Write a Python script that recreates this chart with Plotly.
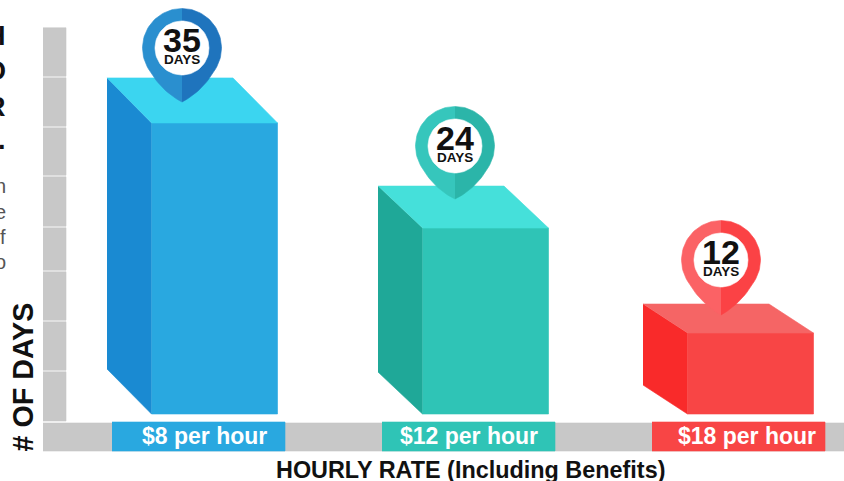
import numpy as np
import plotly.graph_objects as go

# --- data ---
rates = ["$8 per hour", "$12 per hour", "$18 per hour"]
days = [35, 24, 12]
axis_ticks = [0, 5, 10, 15, 20, 25, 30, 35, 40]
axis_title_x = "HOURLY RATE (Including Benefits)"
axis_title_y = "# OF DAYS"

# --- styling / layout constants (pixels of the 844x481 frame) ---
W, H = 844, 481
BASE_PX, PX_PER_DAY = 422, 9.83
bar_left = [107, 378, 643]
bar_w, bar_dx = 126, 44.5
bar_dy = [45, 42, 29]
front_bottom_px = 414
label_left = [112, 382, 652]
label_text_x = [204.5, 468.5, 746.5]
label_w = 173
pin_cx = [182, 455, 721]
pin_cy = [48, 146, 260]
pin_tip_offset = [54, 53, 55]
pin_R, pin_r = 39.5, 27
front = ["#29A8E0", "#2FC4B6", "#F84545"]
side = ["#1A8AD2", "#1FA898", "#F92A2A"]
top = ["#3BD5F0", "#45E0DA", "#F56565"]
pinL = ["#2A8FCF", "#36C6BC", "#FB6265"]
pinR = ["#1F74BD", "#2BB5A9", "#FB4245"]
GREY = "#C8C8C8"
# irregular band gaps as drawn, px above baseline per axis tick
band_edges_px = [421, 371, 321, 271, 227, 176, 127, 77, 27]


def d(py):
    """pixel row -> value on the days axis"""
    return (BASE_PX - py) / PX_PER_DAY


fig = go.Figure()


def poly(xs, ys, color):
    fig.add_trace(go.Scatter(x=xs, y=ys, mode="lines", fill="toself", fillcolor=color,
                             line=dict(width=0.6, color=color), hoverinfo="skip", showlegend=False))


# grey vertical axis band, one block per tick interval
for i in range(len(axis_ticks) - 1):
    y0, y1 = d(band_edges_px[i] - (0 if i == 0 else 0.8)), d(band_edges_px[i + 1] + 0.8)
    poly([43, 66, 66, 43], [y0, y0, y1, y1], GREY)
# grey baseline band
poly([43, W, W, 43], [d(423), d(423), d(451), d(451)], GREY)

for i, v in enumerate(days):
    L, dy = bar_left[i], bar_dy[i]
    back = v
    frontt = v - dy / PX_PER_DAY
    fb = d(front_bottom_px)
    fl = L + bar_dx
    poly([L, fl, fl, L], [back, frontt, fb, fb + dy / PX_PER_DAY], side[i])
    poly([fl, fl + bar_w, fl + bar_w, fl], [frontt, frontt, fb, fb], front[i])
    poly([L, L + bar_w, fl + bar_w, fl], [back, back, frontt, frontt], top[i])
    # category label chip
    poly([label_left[i], label_left[i] + label_w, label_left[i] + label_w, label_left[i]],
         [d(422), d(422), d(451), d(451)], front[i])

    # map pin
    cx, cy, tip = pin_cx[i], pin_cy[i], pin_tip_offset[i]
    theta = np.radians(np.linspace(-90, 28, 40))
    ax = pin_R * np.cos(theta)
    ay = pin_R * np.sin(theta)
    t = np.linspace(0, 1, 20)
    p0 = np.array([ax[-1], ay[-1]])
    p2 = np.array([0.0, float(tip)])
    p1 = np.array([pin_R * 0.55, pin_R * 1.08])
    bx = (1 - t) ** 2 * p0[0] + 2 * t * (1 - t) * p1[0] + t ** 2 * p2[0]
    by = (1 - t) ** 2 * p0[1] + 2 * t * (1 - t) * p1[1] + t ** 2 * p2[1]
    hx = np.concatenate([ax, bx])
    hy = np.concatenate([ay, by])
    poly(list(cx - hx), list(d(cy + hy)), pinL[i])
    poly(list(cx + hx), list(d(cy + hy)), pinR[i])
    ang = np.linspace(0, 2 * np.pi, 80)
    poly(list(cx + pin_r * np.cos(ang)), list(d(cy + pin_r * np.sin(ang))), "#FFFFFF")

ann = []


def text(x, py, s, size, color="#111111", bold=True, anchor="center", angle=0):
    ann.append(dict(x=x, y=d(py), text=f"<b>{s}</b>" if bold else s, showarrow=False, xanchor=anchor,
                    yanchor="middle", textangle=angle, xref="x", yref="y",
                    font=dict(family="Liberation Sans", size=size, color=color)))


for i, v in enumerate(days):
    text(pin_cx[i], pin_cy[i] - 8.5, str(v), 34)
    text(pin_cx[i], pin_cy[i] + 11.5, "DAYS", 13.5)
    text(label_text_x[i], 436, rates[i], 23, "#FFFFFF")

text(470, 470, axis_title_x, 23.4)
text(22, 377.5, axis_title_y, 28.7, angle=-90)

# cropped side copy at the picture's left edge
for s, py in zip(["H", "O", "R", "."], [36, 71, 107, 140]):
    text(8, py, s, 27, anchor="right")
for s, py in zip(["n", "e", "f", "o"], [186, 212, 237, 262]):
    text(8, py, s, 20, color="#555555", bold=False, anchor="right")

fig.update_layout(
    width=W, height=H, margin=dict(l=0, r=0, t=0, b=0),
    paper_bgcolor="white", plot_bgcolor="white", annotations=ann,
    xaxis=dict(range=[0, W], visible=False, fixedrange=True),
    yaxis=dict(range=[d(H), d(0)], visible=False, fixedrange=True),
    showlegend=False,
)
fig.write_html("out.html", config={"displayModeBar": False},
               post_script="document.body.style.margin='0';")
